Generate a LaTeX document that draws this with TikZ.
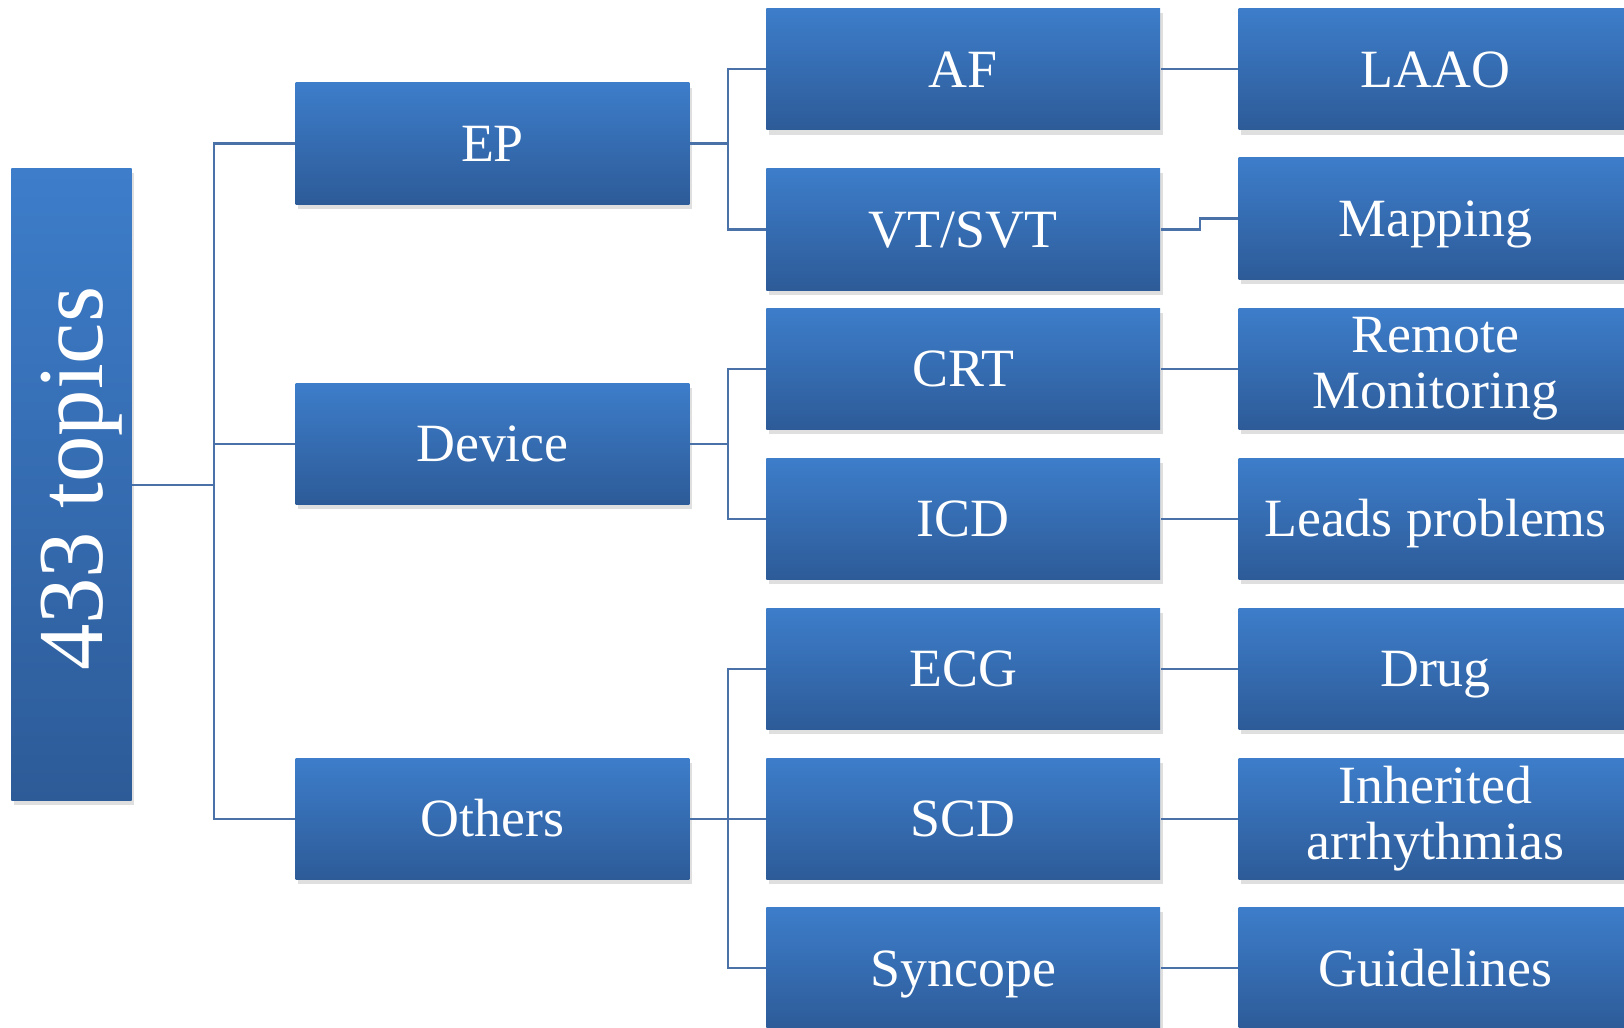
\documentclass[tikz,border=0pt]{standalone}
\usepackage{fontspec}
\setmainfont{Liberation Serif}
\usetikzlibrary{shadows}
\definecolor{boxtop}{RGB}{61,125,202}
\definecolor{boxbot}{RGB}{45,91,152}
\definecolor{linkblue}{RGB}{74,114,168}
\newcommand{\tstrut}{\rule{0pt}{0.88em}}
\newcommand{\bstrut}{\rule[-0.22em]{0pt}{0.22em}}
\tikzset{topic/.style = {rectangle, top color=boxtop, bottom color=boxbot, text=white, minimum width=38mm, minimum height=11.7mm, inner sep=0, align=center, execute at begin node=\tstrut, execute at end node=\bstrut, font=\fontsize{14.8}{15.3}\selectfont, drop shadow={shadow xshift=0.25mm, shadow yshift=-0.45mm, opacity=0.25}}}
\tikzset{link/.style = {draw=linkblue, line width=0.6pt}}

\begin{document}
\begin{tikzpicture}[x=0.1mm, y=-0.1mm]
        \useasboundingbox (0,0) rectangle (1568,992);
        \clip (0,0) rectangle (1568,992);
        \node[topic, minimum width=11.6mm, minimum height=61mm, execute at begin node=, execute at end node=] (root) at (69,468) {\hspace*{2mm}\rotatebox{90}{\fontsize{25.5}{26}\selectfont 433 topics}};
        \node[topic] (ep) at (475.5,138.5) {EP};
        \node[topic] (device) at (475.5,428.5) {Device};
        \node[topic] (others) at (475.5,790.5) {Others};
        \node[topic] (af) at (930,67) {AF};
        \node[topic] (vt) at (930,221.5) {VT/SVT};
        \node[topic] (crt) at (930,356) {CRT};
        \node[topic] (icd) at (930,501) {ICD};
        \node[topic] (ecg) at (930,646) {ECG};
        \node[topic] (scd) at (930,790.5) {SCD};
        \node[topic] (syn) at (930,935) {Syncope};
        \node[topic] (laao) at (1386,67) {LAAO};
        \node[topic] (map) at (1386,211) {Mapping};
        \node[topic] (remote) at (1386,356) {Remote\\Monitoring};
        \node[topic] (leads) at (1386,501) {Leads problems};
        \node[topic] (drug) at (1386,646) {Drug};
        \node[topic] (inher) at (1386,790.5) {Inherited\\arrhythmias};
        \node[topic] (guide) at (1386,935) {Guidelines};
        \foreach \b in {ep,device,others} \draw[link] (root.east) -- ++(79,0) |- (\b.west);
        \foreach \b in {af,vt} \draw[link] (ep.east) -- ++(37,0) |- (\b.west);
        \foreach \b in {crt,icd} \draw[link] (device.east) -- ++(37,0) |- (\b.west);
        \foreach \b in {ecg,scd,syn} \draw[link] (others.east) -- ++(37,0) |- (\b.west);
        \foreach \a/\b in {af/laao,vt/map,crt/remote,icd/leads,ecg/drug,scd/inher,syn/guide} \draw[link] (\a.east) -- ++(38,0) |- (\b.west);
    \end{tikzpicture}
\end{document}
